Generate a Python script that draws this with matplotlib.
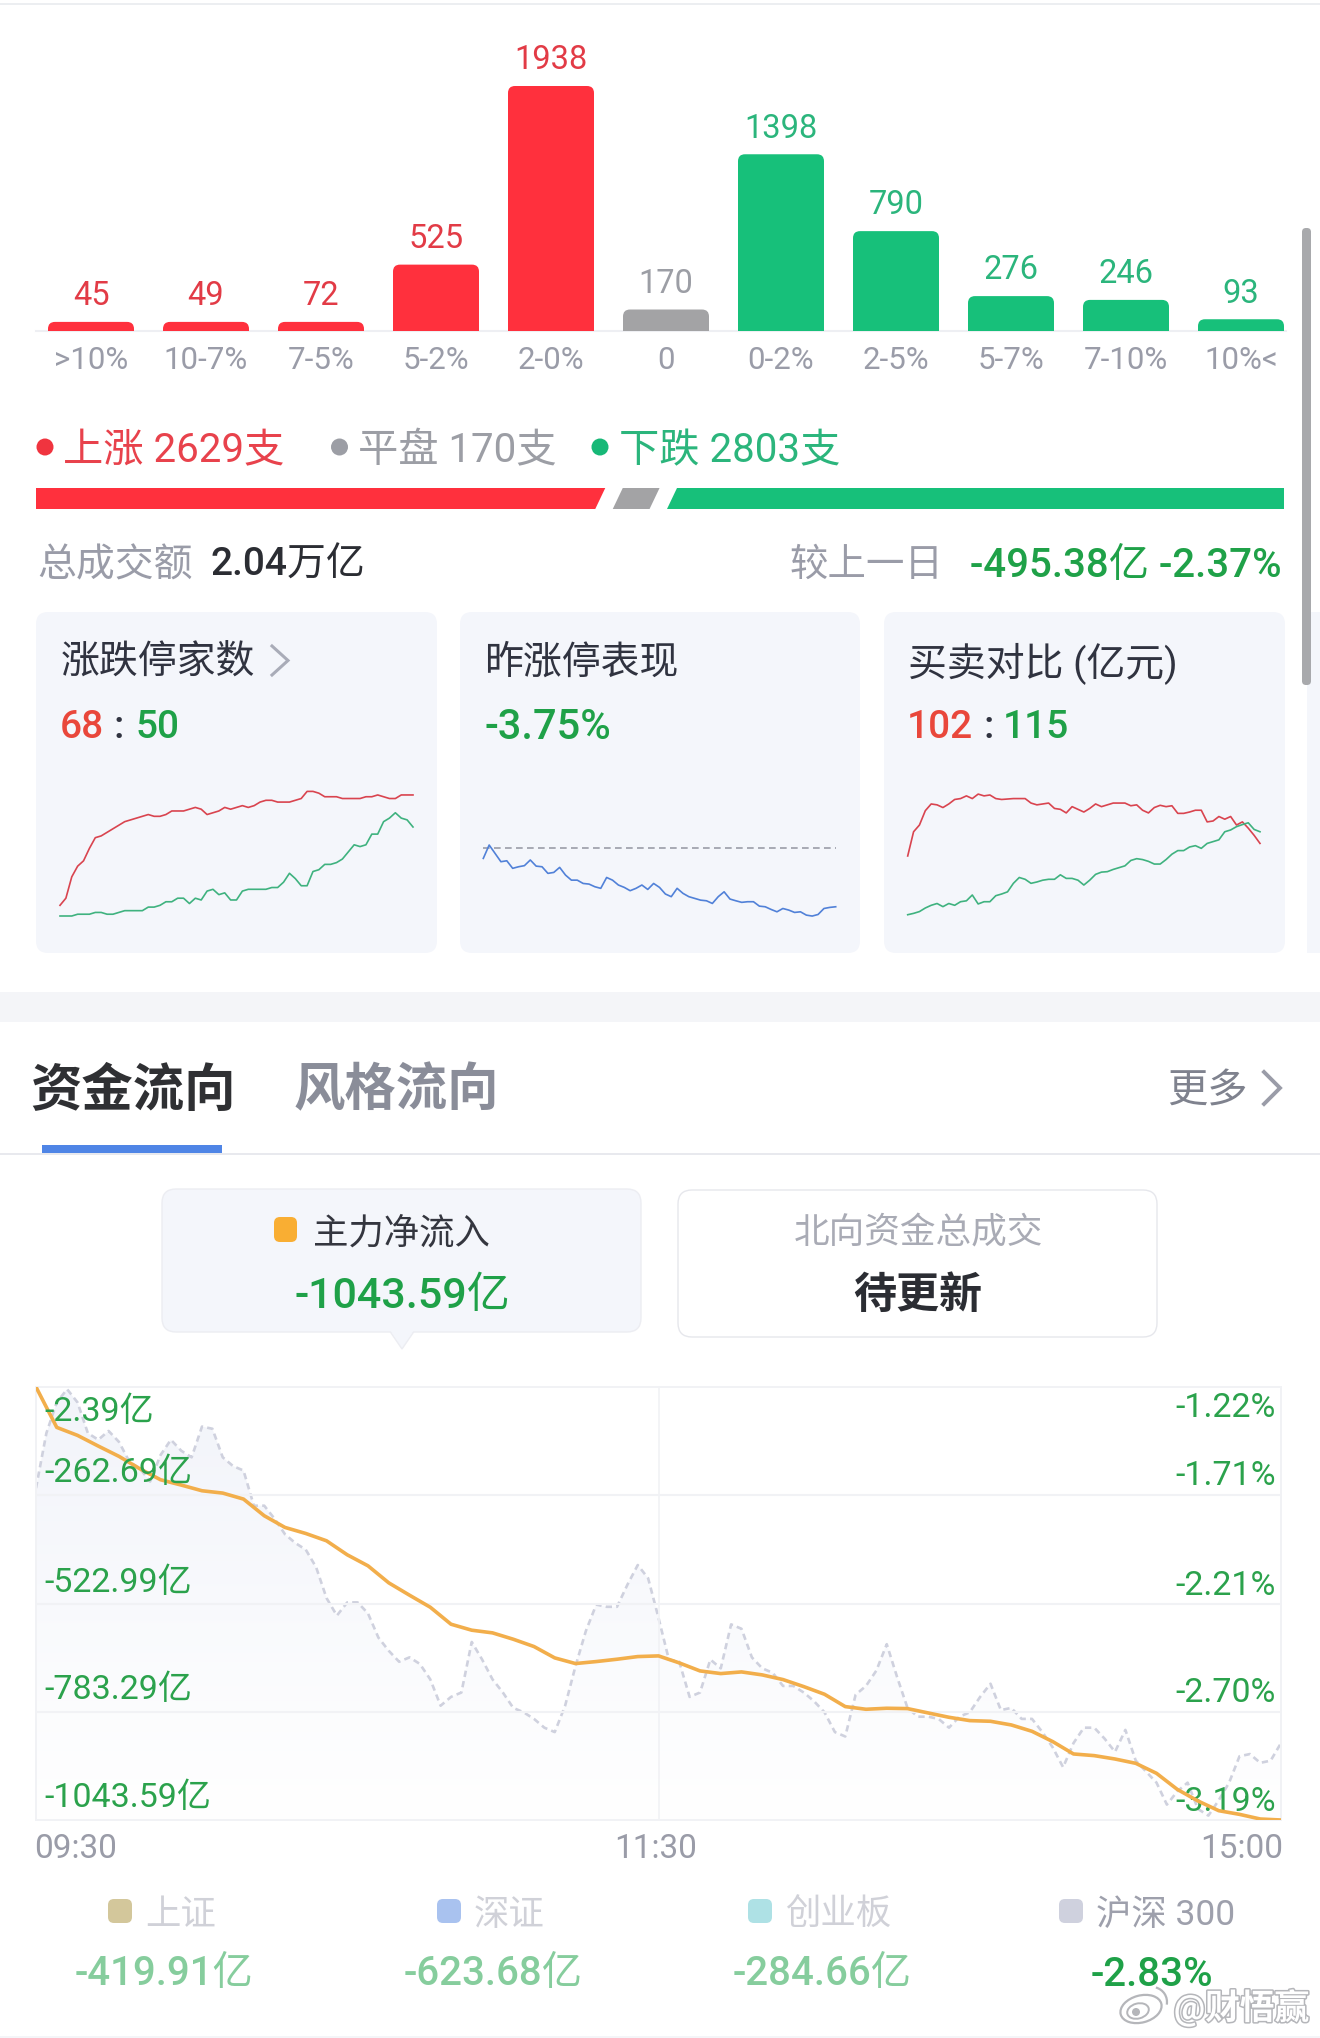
import numpy as np
import matplotlib
matplotlib.use("Agg")
import matplotlib.pyplot as plt
import matplotlib.patheffects as pe
from matplotlib.colors import LinearSegmentedColormap
from matplotlib.patches import Arc, Circle, Ellipse, FancyBboxPatch, PathPatch, Polygon, Rectangle
from matplotlib.path import Path

plt.rcParams['font.family'] = ['Roboto', 'Noto Sans CJK SC', 'DejaVu Sans']

# distribution bars
bucket_labels = ['>10%', '10-7%', '7-5%', '5-2%', '2-0%', '0', '0-2%', '2-5%', '5-7%', '7-10%', '10%<']
bucket_counts = [45, 49, 72, 525, 1938, 170, 1398, 790, 276, 246, 93]
bucket_colors = ['#ff303d'] * 5 + ['#a3a3a5'] + ['#17c07a'] * 5
bucket_text_colors = ['#e23b46'] * 5 + ['#9c9ea5'] + ['#2bb57c'] * 5

# up / flat / down
breadth_counts = [2629, 170, 2803]
breadth_names = ['上涨', '平盘', '下跌']

# mini cards, one sample every 4 minutes
limit_up = [6, 10, 22, 28, 31, 38, 44, 45, 47, 49, 51, 53, 54, 55, 56, 57, 56, 56, 57, 59, 59, 59, 60, 61, 60, 57,
            58, 59, 61, 60, 61, 62, 61, 62, 64, 65, 65, 64, 64, 64, 65, 66, 70, 70, 69, 67, 67, 67, 66, 66, 66, 66,
            67, 67, 68, 67, 66, 66, 68, 68, 68]
limit_down = [0, 0, 0, 1, 1, 1, 2, 2, 1, 1, 2, 3, 3, 3, 3, 5, 5, 6, 8, 8, 10, 10, 7, 10, 9, 14, 15, 12, 13, 9, 9, 14,
              15, 15, 15, 15, 16, 16, 19, 24, 21, 17, 17, 25, 26, 29, 29, 30, 32, 36, 40, 39, 40, 46, 46, 53, 55, 58,
              55, 54, 50]
yesterday_pct = [-0.68, 0.17, -0.36, -0.89, -0.83, -1.31, -1.21, -1.14, -0.78, -1.17, -1.21, -1.63, -1.57, -1.25,
                 -1.74, -2.06, -2.06, -2.27, -2.31, -2.48, -2.58, -1.89, -2.06, -2.37, -2.52, -2.73, -2.58, -2.37,
                 -2.65, -2.27, -2.52, -2.94, -3.11, -2.58, -2.90, -3.11, -3.22, -3.33, -3.37, -3.54, -3.11, -2.80,
                 -3.26, -3.37, -3.47, -3.43, -3.43, -3.71, -3.75, -3.92, -4.07, -3.86, -3.96, -4.11, -4.07, -4.28,
                 -4.34, -4.24, -3.86, -3.79, -3.75]
buy_amount = [88, 115, 122.5, 138.5, 146, 145, 142, 146, 151, 152, 155, 152, 157, 155, 156, 152, 151, 151.5, 152, 152,
              152, 147, 145, 146, 147, 141, 140, 136, 143, 140, 137, 141, 146, 143, 145, 147, 147, 147, 144, 145,
              139, 136, 142, 144.5, 143, 144, 135.5, 135.5, 137, 139, 139, 126, 127, 132, 129, 132, 122.5, 126, 119,
              111, 102]
sell_amount = [22.5, 24, 26, 30, 33, 35, 31.5, 35, 33, 37, 38, 44.5, 34.5, 37, 37, 43.7, 45.6, 48, 57.5, 64, 62, 57.5,
               59, 61, 62, 62, 67, 63, 63, 61, 55.6, 61, 67.5, 70, 70.5, 73, 75, 77, 83, 85, 84, 82, 79, 79, 84, 90,
               94, 94, 98, 99.5, 96.5, 102, 104, 106, 115, 117, 120.7, 123, 125, 117.6, 115]

# main chart: net flow every 4 minutes, index change every 2 minutes
flow_yi = [-2.39, -99.5, -118.7, -144.4, -169.2, -198.9, -225.4, -238.2, -251.9, -257.5, -271.9, -312, -340.1, -354.6,
           -372.2, -405.9, -432.4, -473.3, -503, -531.9, -572.8, -587.2, -593.6, -608.9, -626.5, -653.8, -667.4,
           -662.6, -657, -650.6, -649, -665.8, -685.1, -691.5, -687.5, -694.7, -705.9, -722.8, -741.2, -770.9, -777.3,
           -774.9, -775.7, -786.2, -796.6, -804.6, -806.2, -815, -830.3, -855.1, -884.8, -888.8, -896.9, -907.3,
           -931.3, -969.9, -997.9, -1021.2, -1030, -1041.2, -1043.59]
index_pct = [-1.68, -1.43, -1.29, -1.23, -1.29, -1.43, -1.46, -1.42, -1.47, -1.56, -1.59, -1.65, -1.53, -1.46, -1.51,
             -1.54, -1.40, -1.41, -1.54, -1.58, -1.60, -1.76, -1.76, -1.82, -1.89, -1.93, -1.96, -2.04, -2.18, -2.26,
             -2.20, -2.20, -2.25, -2.36, -2.42, -2.47, -2.45, -2.48, -2.55, -2.67, -2.63, -2.61, -2.38, -2.46, -2.55,
             -2.61, -2.68, -2.70, -2.73, -2.77, -2.79, -2.67, -2.49, -2.33, -2.21, -2.22, -2.22, -2.12, -2.03, -2.09,
             -2.27, -2.46, -2.47, -2.63, -2.61, -2.46, -2.50, -2.30, -2.32, -2.45, -2.50, -2.52, -2.58, -2.58, -2.61,
             -2.65, -2.70, -2.79, -2.81, -2.62, -2.58, -2.51, -2.39, -2.54, -2.68, -2.72, -2.72, -2.73, -2.77, -2.72,
             -2.70, -2.63, -2.57, -2.69, -2.68, -2.73, -2.73, -2.79, -2.86, -2.95, -2.84, -2.77, -2.77, -2.82, -2.88,
             -2.78, -2.92, -2.97, -3.02, -3.12, -3.06, -3.02, -3.14, -3.17, -3.10, -3.02, -2.90, -2.89, -2.93, -2.92,
             -2.84]
flow_ticks = [-2.39, -262.69, -522.99, -783.29, -1043.59]
pct_ticks = [-1.22, -1.71, -2.21, -2.70, -3.19]
time_labels = ['09:30', '11:30', '15:00']

# bottom summary
market_names = ['上证', '深证', '创业板', '沪深 300']
market_values = ['-419.91亿', '-623.68亿', '-284.66亿', '-2.83%']
market_colors = ['#d3c79b', '#a9c2ef', '#aee1e5', '#cfd1de']

W, H = 1320, 2038
RED = '#e9473b'
GREEN = '#1fa148'
DARK = '#303340'
GRAY = '#9a9ca8'

fig = plt.figure(figsize=(W / 100, H / 100), dpi=100, facecolor='white')
page = fig.add_axes([0, 0, 1, 1])
page.set_xlim(0, W)
page.set_ylim(H, 0)
page.axis('off')


def px_axes(x0, y0, x1, y1):
    ax = fig.add_axes([x0 / W, 1 - y1 / H, (x1 - x0) / W, (y1 - y0) / H])
    ax.patch.set_alpha(0)
    return ax


def label(x, y, s, size, color, ha='left', **kw):
    # the CJK line box sits a little high when centred
    return page.text(x, y + 3.5, s, fontsize=size, color=color, ha=ha, va='center', **kw)


def card(x0, y0, x1, y1, face, edge='none', r=12, lw=1):
    page.add_patch(FancyBboxPatch((x0 + r, y0 + r), x1 - x0 - 2 * r, y1 - y0 - 2 * r,
                                  boxstyle=f'round,pad={r},rounding_size={r}', fc=face, ec=edge, lw=lw))


def chevron(x0, y0, x1, y1, color, lw=2):
    page.plot([x0, x1, x0], [y0, (y0 + y1) / 2, y1], color=color, lw=lw, solid_joinstyle='miter')


# page chrome
page.add_patch(Rectangle((0, 3), W, 2, fc='#eceef1', ec='none'))
page.add_patch(Rectangle((0, 992), W, 30, fc='#f4f5f8', ec='none'))
page.add_patch(Rectangle((0, 2036), W, 2, fc='#f4f5f8', ec='none'))
page.add_patch(Rectangle((1307, 612), 13, 341, fc='#f4f6fb', ec='none'))
card(1302, 228, 1311, 685, '#a8a9ac', r=4)

# bars
ax = px_axes(36, 86, 1286, 331)
ax.set_xlim((36 - 91) / 115, (1286 - 91) / 115)
ax.set_ylim(0, max(bucket_counts))
ax.patch.set_alpha(0)
for side in ['top', 'left', 'right']:
    ax.spines[side].set_visible(False)
ax.spines['bottom'].set_color('#eeeff3')
ax.spines['bottom'].set_linewidth(1.5)
ax.set_yticks([])
ax.set_xticks(range(len(bucket_labels)))
ax.set_xticklabels(bucket_labels, fontsize=22.5, color=GRAY)
ax.tick_params(axis='x', length=0, pad=11)
bar_w = 86 / 115
rx = 7 / 115
ry = 7 * max(bucket_counts) / 245
for i, (c, col, tcol) in enumerate(zip(bucket_counts, bucket_colors, bucket_text_colors)):
    h = max(c, 72)  # tiny buckets keep a minimum height
    x0, x1 = i - bar_w / 2, i + bar_w / 2
    verts = [(x0, 0), (x0, h - ry), (x0, h), (x0 + rx, h), (x1 - rx, h), (x1, h), (x1, h - ry), (x1, 0), (x0, 0)]
    codes = [Path.MOVETO, Path.LINETO, Path.CURVE3, Path.CURVE3, Path.LINETO, Path.CURVE3, Path.CURVE3, Path.LINETO,
             Path.CLOSEPOLY]
    ax.add_patch(PathPatch(Path(verts, codes), fc=col, ec='none', zorder=3))
    ax.annotate(str(c), (i, h), xytext=(0, 7), textcoords='offset points', ha='center', va='bottom',
                fontsize=23.5, color=tcol, annotation_clip=False)

# breadth legend
dots_x = [45, 339.5, 600]
text_x = [63, 358, 619]
breadth_col = ['#f0343f', '#9c9ea5', '#17b877']
text_col = ['#e8424c', '#9c9ea5', '#2bb57c']
for dx, tx, name, n, dc, tc in zip(dots_x, text_x, breadth_names, breadth_counts, breadth_col, text_col):
    page.add_patch(Circle((dx, 447), 8.5, fc=dc, ec='none'))
    label(tx, 447, f'{name} {n}支', 29, tc)

# breadth bar, widths follow the counts
usable = 1213
widths = [usable * n / sum(breadth_counts) for n in breadth_counts]
left = 36
skew = 10
seg_colors = ['#ff303d', '#a3a3a5', '#17c07a']
for i, (w, col) in enumerate(zip(widths, seg_colors)):
    bl = left - (skew if i else 0)
    tl = left
    tr = left + w
    br = tr - (skew if i < 2 else 0)
    page.add_patch(Polygon([(tl, 488), (tr, 488), (br, 509), (bl, 509)], fc=col, ec='none'))
    left = tr + 17.5

# totals row
label(37, 562, '总成交额', 28, GRAY)
label(210, 562, '2.04万亿', 28, '#2b2d33', weight='medium')
label(790, 562, '较上一日', 27.7, GRAY)
label(1282, 562, '-495.38亿 -2.37%', 29, GREEN, ha='right', weight='medium')

# cards
card_x = [(36, 437), (460, 860), (884, 1285)]
for x0, x1 in card_x:
    card(x0, 612, x1, 953, '#f4f6fb')
label(61, 660, '涨跌停家数', 28, DARK)
label(484, 660, '昨涨停表现', 28, DARK)
label(908, 660, '买卖对比 (亿元)', 28, DARK)
chevron(272, 646, 288, 675, '#a9acb8', lw=2.2)

label(60, 724, '68', 28, RED, weight='medium')
label(114, 724, ':', 28, DARK, weight='medium')
label(136, 724, '50', 28, GREEN, weight='medium')
label(484, 724, '-3.75%', 30, GREEN, weight='medium')
label(907, 724, '102', 28, RED, weight='medium')
label(983, 724, ':', 28, DARK, weight='medium')
label(1003, 724, '115', 28, GREEN, weight='medium')

mini_t = np.arange(len(limit_up)) * 4

ax = px_axes(60, 791.4, 413, 916)
ax.plot(mini_t, limit_up, color='#d9444f', lw=1.2, clip_on=False)
ax.plot(mini_t, limit_down, color='#3fb27f', lw=1.2, clip_on=False)
ax.set_xlim(0, 240)
ax.set_ylim(0, 70)
ax.axis('off')

ax = px_axes(483.3, 847.7, 835.7, 917)
ax.axhline(0, color='#9a9ca8', lw=1.2, linestyle=(0, (4, 2.6)), clip_on=False)
ax.plot(mini_t, yesterday_pct, color='#5181d8', lw=1.2, clip_on=False)
ax.set_xlim(0, 240)
ax.set_ylim(-4.4, 0)
ax.axis('off')

ax = px_axes(907.7, 791.4, 1260, 934.9)
ax.plot(mini_t, buy_amount, color='#d9444f', lw=1.2, clip_on=False)
ax.plot(mini_t, sell_amount, color='#3fb27f', lw=1.2, clip_on=False)
ax.set_xlim(0, 240)
ax.set_ylim(0, 160)
ax.axis('off')

# tabs
label(30, 1088, '资金流向', 37, '#2f3033', weight='bold')
label(294, 1088, '风格流向', 37, '#8a8d99', weight='bold')
label(1167, 1087, '更多', 29, '#7f828e')
chevron(1264, 1072, 1280, 1104, '#9a9ca8', lw=2.8)
page.add_patch(Rectangle((0, 1153), W, 1.5, fc='#e8e9ee', ec='none'))
page.add_patch(Rectangle((42, 1145), 180, 8, fc='#4f85e6', ec='none'))

# flow selector buttons
page.add_patch(Polygon([(389, 1330), (415, 1330), (402, 1349)], fc='#f4f6fb', ec='#ecedf2', lw=1))
card(162, 1189, 641, 1332, '#f4f6fb', edge='#ecedf2', r=14)
page.add_patch(Polygon([(390, 1330), (414, 1330), (402, 1347)], fc='#f4f6fb', ec='none'))
card(678, 1190, 1157, 1337, 'white', edge='#e6e7ec', r=14)
card(274, 1217, 297, 1242, '#f9ae33', r=6)
label(313, 1230, '主力净流入', 25.5, '#34363f')
label(402, 1293, '-1043.59亿', 31, GREEN, ha='center', weight='medium')
label(918, 1230, '北向资金总成交', 25.7, '#a9abb5', ha='center')
label(918, 1293, '待更新', 31, '#2b2d33', ha='center', weight='bold')

# main chart
ax_pct = px_axes(36, 1387, 1281, 1820)
ax_pct.set_xlim(0, 240)
ax_pct.set_ylim(pct_ticks[-1], pct_ticks[0])
ax_flow = ax_pct.twinx()
ax_flow.patch.set_alpha(0)
ax_flow.set_ylim(flow_ticks[-1], flow_ticks[0])
ax_flow.set_xlim(0, 240)

for a in (ax_pct, ax_flow):
    a.set_xticks([])
    a.set_yticks([])
    for s in a.spines.values():
        s.set_color('#f1f2f5')
        s.set_linewidth(1.2)
for v in flow_ticks[1:-1]:
    ax_flow.axhline(v, color='#f1f2f5', lw=1.5)
ax_flow.axvline(120, color='#f1f2f5', lw=1.2)

t_idx = np.arange(len(index_pct)) * 2
t_flow = np.arange(len(flow_yi)) * 4
# soft gradient under the index line
grad_cmap = LinearSegmentedColormap.from_list('under', ['#f2f4fa', '#ffffff'])
grad = ax_pct.imshow(np.linspace(0, 1, 200).reshape(-1, 1), cmap=grad_cmap, aspect='auto',
                     extent=(0, 240, pct_ticks[-1], pct_ticks[0]), zorder=1)
under = ax_pct.fill_between(t_idx, index_pct, pct_ticks[-1], fc='none', ec='none')
grad.set_clip_path(under.get_paths()[0], transform=ax_pct.transData)
ax_pct.plot(t_idx, index_pct, color='#cfd1de', lw=1.9, linestyle=(0, (2.4, 1.6)), zorder=2)
ax_pct.set_xlim(0, 240)
ax_pct.set_ylim(pct_ticks[-1], pct_ticks[0])
ax_flow.plot(t_flow, flow_yi, color='#f2ae4b', lw=2.6, solid_capstyle='butt', zorder=3)

left_offsets = [25, -22, -21, -22, -22]
right_offsets = [21, -19, -19, -19, -18]
for v, off in zip(flow_ticks, left_offsets):
    ax_flow.annotate(f'{v:.2f}亿', (0, v), xycoords=ax_flow.get_yaxis_transform(), xytext=(8 * 0.72, -off * 0.72),
                     textcoords='offset points', fontsize=24.5, color='#2ba24c', va='center', ha='left', zorder=4)
for v, off in zip(pct_ticks, right_offsets):
    ax_pct.annotate(f'{v:.2f}%', (1, v), xycoords=ax_pct.get_yaxis_transform(), xytext=(-5 * 0.72, -off * 0.72),
                    textcoords='offset points', fontsize=24.5, color='#2ba24c', va='center', ha='right', zorder=4)

label(34, 1846, time_labels[0], 24, GRAY)
label(656, 1846, time_labels[1], 24, GRAY, ha='center')
label(1283, 1846, time_labels[2], 24, GRAY, ha='right')

# bottom summary
square_x = [108, 437, 748, 1059]
name_x = [145, 474, 785, 1096]
name_col = ['#d0d1d8', '#d0d1d8', '#d0d1d8', '#9ea0ac']
value_x = [164, 493, 822, 1152]
value_col = ['#86cd9d', '#86cd9d', '#86cd9d', GREEN]
for sx, nx, vx, name, val, sq, nc, vc in zip(square_x, name_x, value_x, market_names, market_values,
                                             market_colors, name_col, value_col):
    card(sx, 1899, sx + 24, 1923, sq, r=6)
    label(nx, 1912, name, 25.5, nc)
    label(vx, 1971, val, 29, vc, ha='center', weight='medium')

# watermark
wm = label(1174, 2004, '@财悟赢', 25, 'white', weight='bold')
wm.set_path_effects([pe.withStroke(linewidth=2.2, foreground='#b5b6ba')])
page.add_patch(Ellipse((1141, 2009), 42, 27, angle=-15, fc='white', ec='#b5b6ba', lw=1.6))
page.add_patch(Ellipse((1138, 2011), 22, 15, angle=-15, fc='white', ec='#b5b6ba', lw=1.4))
page.add_patch(Circle((1136, 2012), 4, fc='#b5b6ba', ec='none'))
page.add_patch(Arc((1152, 2002), 30, 30, theta1=-75, theta2=10, ec='#b5b6ba', lw=1.6))

fig.savefig('out.png', dpi=100, facecolor='white')
